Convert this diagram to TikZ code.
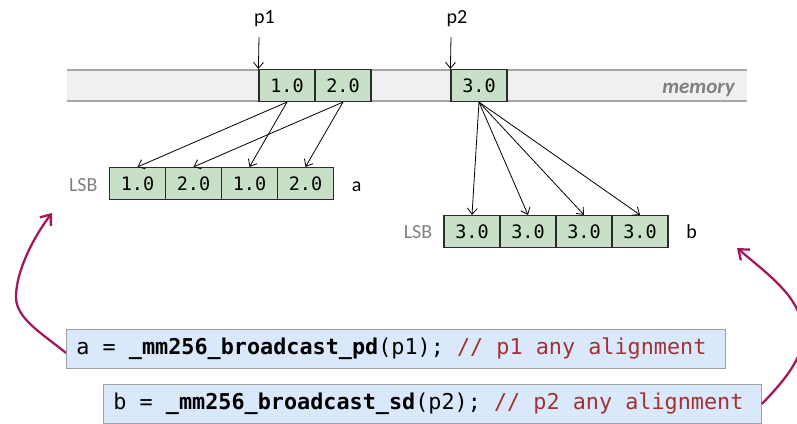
\documentclass[tikz,border=0pt]{standalone}
\usepackage{fontspec}
\setmainfont{Carlito}
\newfontfamily\codefont{DejaVu Sans Mono}
\usetikzlibrary{arrows.meta}
\definecolor{cellgreen}{HTML}{C8DFC8}
\definecolor{cellline}{HTML}{2B2B2B}
\definecolor{bandfill}{HTML}{F0F0F0}
\definecolor{bandline}{HTML}{A6A6A6}
\definecolor{codeblue}{HTML}{DAE8FC}
\definecolor{codeline}{HTML}{A0A0A0}
\definecolor{commentred}{HTML}{A33232}
\definecolor{recallred}{HTML}{A3195B}
\definecolor{lsbgray}{HTML}{808080}
% one line of code, left aligned in a box of fixed width
\newcommand\codeline[2]{\makebox[#1][l]{#2}}
\tikzset{
  cell/.style={draw=cellline, fill=cellgreen, line width=1.2pt,
    minimum width=56pt, minimum height=32pt, inner sep=0pt,
    font=\codefont\fontsize{18.5}{20}\selectfont},
  lbl/.style={anchor=base, inner sep=0pt, font=\fontsize{20}{24}\selectfont},
  ptr/.style={draw=black, line width=0.8pt, -{Straight Barb[length=6pt,width=10pt]}},
  codebox/.style={draw=codeline, fill=codeblue, line width=0.9pt, anchor=north west,
    minimum height=39pt, inner xsep=10pt, inner ysep=0pt,
    font=\codefont\fontsize{21.8}{26}\selectfont},
  recall/.style={draw=recallred, line width=2.3pt,
    -{Straight Barb[length=9pt,width=14pt]}},
}
\begin{document}
\begin{tikzpicture}[x=1pt,y=-1pt]
\useasboundingbox (0,0) rectangle (797,423);

% memory band
\fill[bandfill] (67,70) rectangle (747,101);
\draw[bandline, line width=1.2pt] (67,70) -- (747,70) (67,101) -- (747,101);
\node[lbl, anchor=base east, text=lsbgray, font=\fontsize{21}{24}\selectfont\bfseries\itshape]
  (memlbl) at (735,93) {memory};

% values in memory
\node[cell] (m1) at (287,85.5) {1.0};
\node[cell] (m2) at (343,85.5) {2.0};
\node[cell] (m3) at (479,85.5) {3.0};

% pointers
\node[lbl] (p1) at (264.5,23.5) {p1};
\node[lbl] (p2) at (457,23.5) {p2};
\coordinate (p1tail) at (259,37);
\coordinate (p2tail) at (451,37);
\draw[ptr] (p1tail) -- (m1.north west);
\draw[ptr] (p2tail) -- (m3.north west);

% register a
\node[lbl, text=lsbgray] (lsba) at (83.3,191) {LSB};
\foreach \i/\v in {1/1.0,2/2.0,3/1.0,4/2.0}
  \node[cell] (a\i) at ({137.5+56*(\i-1)},183.5) {\v};
\node[lbl] (ra) at (356.7,191) {a};

% register b
\node[lbl, text=lsbgray] (lsbb) at (418,238) {LSB};
\foreach \i in {1,...,4}
  \node[cell] (b\i) at ({472+56*(\i-1)},231.5) {3.0};
\node[lbl] (rb) at (691.7,238) {b};

% broadcast connectors
\draw[ptr] (m1.south) -- (a1.north);
\draw[ptr] (m1.south) -- (a3.north);
\draw[ptr] (m2.south) -- (a2.north);
\draw[ptr] (m2.south) -- (a4.north);
\foreach \i in {1,...,4}
  \draw[ptr] (m3.south) -- (b\i.north);

% code
\node[codebox] (code1) at (66,329)
  {\codeline{638.5pt}{a = \textbf{\_mm256\_broadcast\_pd}(p1); \textcolor{commentred}{// p1 any alignment}}};
\node[codebox] (code2) at (103,384)
  {\codeline{638pt}{b = \textbf{\_mm256\_broadcast\_sd}(p2); \textcolor{commentred}{// p2 any alignment}}};

% curved arrows from code to registers
\coordinate (toa) at (52,213);
\coordinate (tob) at (737,248);
\draw[recall] ([yshift=-4pt]code1.west) .. controls (40,332) and (16,318) .. (16,297)
  .. controls (16,270) and (35,235) .. (toa);
\draw[recall] (code2.east) .. controls (780,385) and (803,360) .. (803,336)
  .. controls (803,300) and (775,280) .. (tob);
\end{tikzpicture}
\end{document}
